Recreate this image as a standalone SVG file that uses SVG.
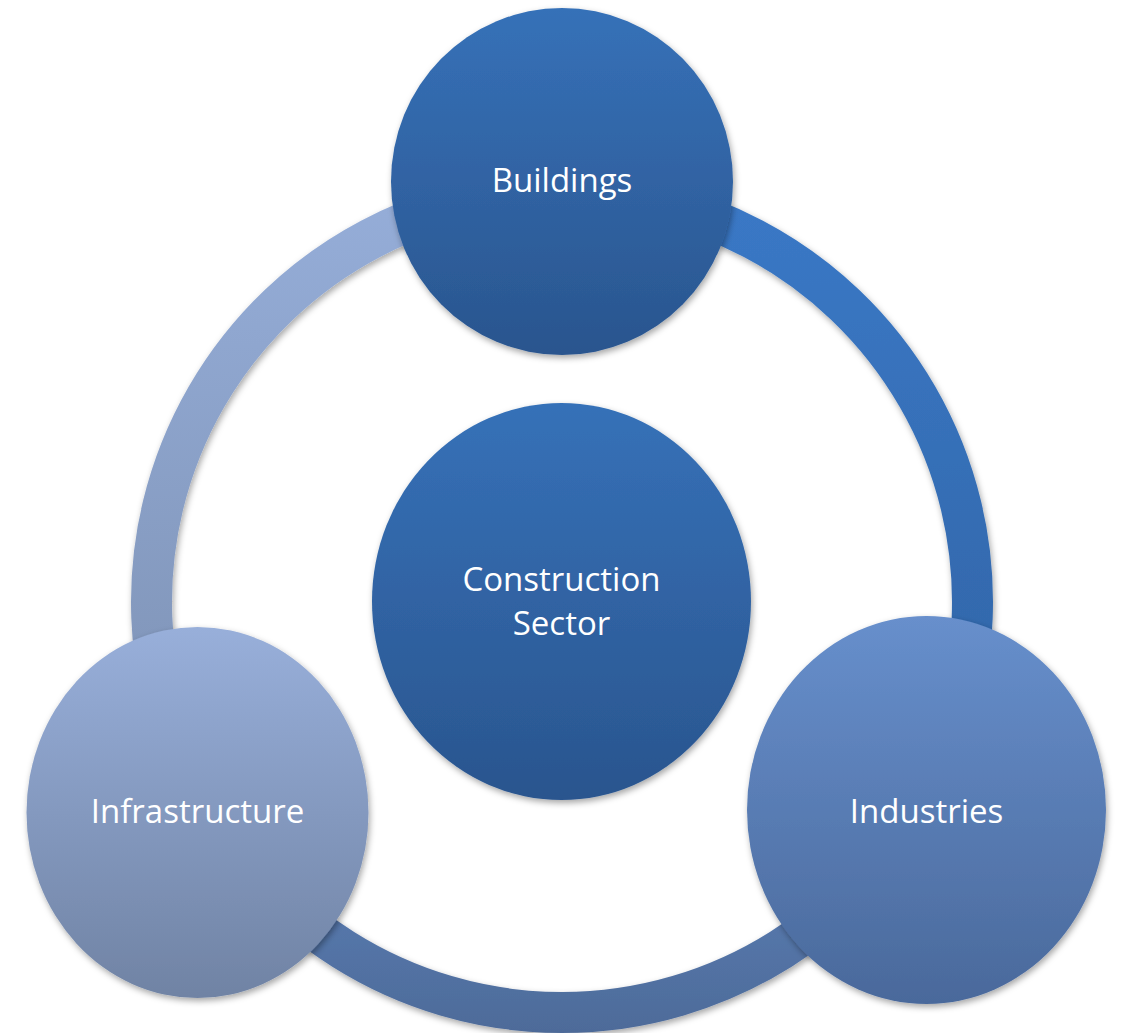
<svg xmlns="http://www.w3.org/2000/svg" width="1122" height="1033" viewBox="0 0 1122 1033">
<style>
.lbl{font-family:"Open Sans","Noto Sans","Liberation Sans",sans-serif;font-size:33px;fill:#ffffff;text-anchor:middle}
.arc{fill:none;stroke-width:41}
</style>
<defs>
<filter id="sh" x="-20%" y="-20%" width="140%" height="140%">
<feDropShadow dx="1.5" dy="3" stdDeviation="3" flood-color="#000" flood-opacity="0.35"/>
</filter>
<linearGradient id="gLeft" gradientUnits="userSpaceOnUse" x1="0" y1="200" x2="0" y2="810">
<stop offset="0" stop-color="#95add8"/><stop offset="1" stop-color="#7c90b2"/>
</linearGradient>
<linearGradient id="gRight" gradientUnits="userSpaceOnUse" x1="0" y1="200" x2="0" y2="810">
<stop offset="0" stop-color="#3a78c6"/><stop offset="1" stop-color="#3063a3"/>
</linearGradient>
<linearGradient id="gBottom" gradientUnits="userSpaceOnUse" x1="0" y1="800" x2="0" y2="1033">
<stop offset="0" stop-color="#5b82bc"/><stop offset="1" stop-color="#4e6b99"/>
</linearGradient>
<linearGradient id="gDark" x1="0" y1="0" x2="0" y2="1">
<stop offset="0" stop-color="#3671b8"/><stop offset="1" stop-color="#2a558e"/>
</linearGradient>
<linearGradient id="gLight" x1="0" y1="0" x2="0" y2="1">
<stop offset="0" stop-color="#98afda"/><stop offset="1" stop-color="#7083a4"/>
</linearGradient>
<linearGradient id="gMid" x1="0" y1="0" x2="0" y2="1">
<stop offset="0" stop-color="#678fcc"/><stop offset="1" stop-color="#4a699b"/>
</linearGradient>
</defs>
<g id="connectors">
<path class="arc" stroke="url(#gLeft)" filter="url(#sh)" d="M206.5 807.25 A410.5 410.5 0 0 1 562 191.5"/>
<path class="arc" stroke="url(#gRight)" filter="url(#sh)" d="M562 191.5 A410.5 410.5 0 0 1 917.5 807.25"/>
<path class="arc" stroke="url(#gBottom)" filter="url(#sh)" d="M917.5 807.25 A410.5 410.5 0 0 1 206.5 807.25"/>
</g>
<g id="center">
<ellipse cx="561.5" cy="601.5" rx="189.5" ry="198.5" fill="url(#gDark)" filter="url(#sh)"/>
<text class="lbl" x="561.5" y="591">Construction</text>
<text class="lbl" x="561.5" y="635">Sector</text>
</g>
<g id="buildings">
<ellipse cx="562" cy="181.5" rx="171" ry="173.5" fill="url(#gDark)" filter="url(#sh)"/>
<text class="lbl" x="562" y="192">Buildings</text>
</g>
<g id="infrastructure">
<ellipse cx="197.5" cy="812.5" rx="171" ry="185.5" fill="url(#gLight)" filter="url(#sh)"/>
<text class="lbl" x="197.5" y="823">Infrastructure</text>
</g>
<g id="industries">
<ellipse cx="926.5" cy="810" rx="179.5" ry="194" fill="url(#gMid)" filter="url(#sh)"/>
<text class="lbl" x="926.5" y="823">Industries</text>
</g>
</svg>
